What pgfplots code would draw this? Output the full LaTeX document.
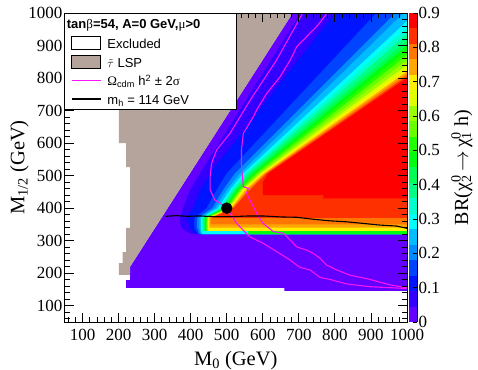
\documentclass[border=0pt]{standalone}
\usepackage{pgfplots}
\pgfplotsset{compat=1.18}
\usepackage{fontspec}
\setmainfont{Liberation Serif}
\newfontfamily\lsans{Liberation Sans}
\definecolor{c0}{RGB}{99,0,255}
\definecolor{c1}{RGB}{51,0,255}
\definecolor{c2}{RGB}{0,20,255}
\definecolor{c3}{RGB}{0,68,255}
\definecolor{c4}{RGB}{0,139,255}
\definecolor{c5}{RGB}{0,187,255}
\definecolor{c6}{RGB}{0,255,252}
\definecolor{c7}{RGB}{0,255,204}
\definecolor{c8}{RGB}{0,255,133}
\definecolor{c9}{RGB}{0,255,85}
\definecolor{c10}{RGB}{0,255,14}
\definecolor{c11}{RGB}{34,255,0}
\definecolor{c12}{RGB}{105,255,0}
\definecolor{c13}{RGB}{153,255,0}
\definecolor{c14}{RGB}{224,255,0}
\definecolor{c15}{RGB}{255,238,0}
\definecolor{c16}{RGB}{255,167,0}
\definecolor{c17}{RGB}{255,119,0}
\definecolor{c18}{RGB}{255,48,0}
\definecolor{c19}{RGB}{255,0,0}
\definecolor{stau}{RGB}{181,164,156}
\definecolor{relic}{RGB}{250,20,250}
\begin{document}
\begin{tikzpicture}
\useasboundingbox (0,0) rectangle (478bp,370bp);
\begin{axis}[
  at={(64.5bp,48bp)}, anchor=south west,
  scale only axis, width=342.5bp, height=309bp,
  xmin=50, xmax=1000, ymin=50, ymax=1000,
  xtick={100,200,...,1000}, ytick={100,200,...,1000},
  minor xtick={60,80,...,1000}, minor ytick={60,80,...,1000},
  tick align=inside, major tick length=9bp, minor tick length=5bp,
  tick style={black, line width=0.8bp},
  axis line style={line width=0.8bp},
  axis on top,
  /pgf/number format/1000 sep={},
  /pgf/number format/assume math mode=true,
  tick label style={font=\fontsize{17bp}{19bp}\selectfont},
  xticklabel style={inner sep=0pt, anchor=north, yshift=-7bp},
  yticklabel style={inner sep=0pt, anchor=east, xshift=-2bp},
  xlabel={M\textsubscript{0} (GeV)},
  ylabel={M\textsubscript{1/2} (GeV)},
  label style={font=\fontsize{20.5bp}{23bp}\selectfont},
  xlabel style={at={(axis description cs:0.5,-0.1392)}, anchor=base},
  ylabel style={at={(axis description cs:-0.1168,0.5)}, anchor=base},
]
% allowed region (lowest BR level)
\addplot[draw=none, fill=c0] coordinates {(221,155) (660,155) (660,146) (1000,146) (1000,1000) (683,1000) (232,220) (232,179) (221,179)};
% stau LSP region
\addplot[draw=none, fill=stau] coordinates {(201,1000) (683,1000) (232,220) (232,194.5) (201,194.5) (201,231) (211,231) (211,265) (221,265) (221,339) (232,339) (232,526) (221,526) (221,600) (201,600)};
% BR superlevel regions
\addplot[draw=none, fill=c1] coordinates {(1000,320) (405,320) (385,330) (372,345) (370,370) (379,400) (398,456) (426,507) (705,1000) (1000,1000)};
\addplot[draw=none, fill=c2] coordinates {(1000,320) (415,320) (400,335) (390,370) (407,400) (426,456) (454,507) (800,1000) (1000,1000)};
\addplot[draw=none, fill=c3] coordinates {(1000,320) (420,320) (410,340) (410,370) (444,400) (472,456) (500,507) (915,1000) (1000,1000)};
\addplot[draw=none, fill=c4] coordinates {(1000,320) (425,320) (418,340) (418,370) (460,400) (490,456) (523,507) (968,1000) (1000,1000)};
\addplot[draw=none, fill=c5] coordinates {(1000,320) (428,320) (424,340) (424,370) (468,400) (500,456) (537,507) (990,1000) (1000,1000)};
\addplot[draw=none, fill=c6] coordinates {(1000,320) (432,320) (428,340) (428,370) (475,400) (509,456) (546,507) (1000,975)};
\addplot[draw=none, fill=c7] coordinates {(1000,320) (560,320) (560,330) (432,330) (431,370) (480,400) (514,456) (552,507) (1000,955)};
\addplot[draw=none, fill=c8] coordinates {(1000,320) (560,320) (560,330) (435,330) (434,370) (485,400) (519,456) (558,507) (1000,935)};
\addplot[draw=none, fill=c9] coordinates {(1000,320) (560,320) (560,330) (438,330) (437,370) (489,400) (524,456) (565,507) (1000,915)};
\addplot[draw=none, fill=c10] coordinates {(1000,320) (560,320) (560,330) (440,330) (440,370) (493,400) (528,456) (573,507) (1000,900)};
\addplot[draw=none, fill=c11] coordinates {(1000,330) (442,330) (442,370) (497,400) (532,456) (578,507) (1000,885)};
\addplot[draw=none, fill=c12] coordinates {(1000,330) (444,330) (444,370) (500,400) (536,456) (584,507) (1000,870)};
\addplot[draw=none, fill=c13] coordinates {(1000,330) (446,330) (446,370) (503,400) (540,456) (590,507) (1000,855)};
\addplot[draw=none, fill=c14] coordinates {(1000,330) (448,330) (448,370) (506,400) (543,456) (595,507) (1000,840)};
\addplot[draw=none, fill=c15] coordinates {(1000,330) (450,330) (450,370) (509,400) (545,456) (598,507) (1000,828)};
\addplot[draw=none, fill=c16] coordinates {(1000,340) (452,340) (452,370) (512,400) (552,456) (603,507) (1000,820)};
\addplot[draw=none, fill=c17] coordinates {(1000,350) (455,350) (455,370) (515,400) (558,456) (607,507) (1000,813)};
\addplot[draw=none, fill=c18] coordinates {(1000,370) (458,370) (518,400) (564,456) (611,507) (1000,806)};
\addplot[draw=none, fill=c19] coordinates {(1000,430) (768,430) (768,440) (600,440) (600,480) (615,507) (1000,800)};
% relic density band contours
\addplot[relic, line width=1.1bp] coordinates {(711,1000) (638,855) (565,732) (537,681) (509,630) (472,579) (458,538) (454,497) (454,456) (467,425) (481,416) (503,395) (528,353) (545,333) (564,312) (601,292) (639,266) (675,241) (703,218) (731,210) (759,187) (786,181) (833,167) (897,158.5) (1000,153)};
\addplot[relic, line width=1.1bp] coordinates {(779,1000) (753,963) (731,938) (694,896) (676,855) (648,804) (611,753) (583,702) (574,681) (546,630) (541,579) (541,527) (546,466) (560,461) (555,446) (564,425) (574,404) (588,374) (601,353) (629,328) (657,323) (676,302) (694,281) (722,271) (740,261) (759,246) (777,225) (805,210) (842,194) (897,181) (953,164) (1000,155)};
% m_h = 114 GeV
\addplot[black, line width=1.1bp] coordinates {(331,375) (360,377) (390,375) (426,376) (460,374) (517,374) (560,376) (601,376) (650,373) (694,372) (739,366) (786,361) (833,358) (879,353) (925,348) (971,345) (1000,338)};
% benchmark point
\addplot[only marks, mark=*, mark size=5.5bp, mark options={fill=black, draw=black}] coordinates {(500,400)};
\end{axis}
% colour scale
\begin{axis}[
  at={(409bp,48bp)}, anchor=south west,
  scale only axis, width=8bp, height=309bp,
  xmin=0, xmax=1, ymin=0, ymax=0.9,
  axis x line=none, axis y line*=right,
  ytick={0,0.1,0.2,0.3,0.4,0.5,0.6,0.7,0.8,0.9},
  yticklabels={0,0.1,0.2,0.3,0.4,0.5,0.6,0.7,0.8,0.9},
  tick align=inside, major tick length=4bp,
  tick style={black, line width=0.8bp},
  axis line style={line width=0.8bp},
  axis on top,
  tick label style={font=\fontsize{17bp}{19bp}\selectfont},
  yticklabel style={inner sep=0pt, anchor=west, xshift=1.5bp},
  ylabel={BR(χ\rlap{\textsuperscript{0}}\textsubscript{2}\,$\rightarrow$\,χ\rlap{\textsuperscript{0}}\textsubscript{1} h)},
  ylabel style={font=\fontsize{20bp}{23bp}\selectfont, at={(axis description cs:7.375,0.5)}, anchor=base},
]
\addplot[draw=none, fill=c0] coordinates {(0,0) (1,0) (1,0.045) (0,0.045)};
\addplot[draw=none, fill=c1] coordinates {(0,0.045) (1,0.045) (1,0.09) (0,0.09)};
\addplot[draw=none, fill=c2] coordinates {(0,0.09) (1,0.09) (1,0.135) (0,0.135)};
\addplot[draw=none, fill=c3] coordinates {(0,0.135) (1,0.135) (1,0.18) (0,0.18)};
\addplot[draw=none, fill=c4] coordinates {(0,0.18) (1,0.18) (1,0.225) (0,0.225)};
\addplot[draw=none, fill=c5] coordinates {(0,0.225) (1,0.225) (1,0.27) (0,0.27)};
\addplot[draw=none, fill=c6] coordinates {(0,0.27) (1,0.27) (1,0.315) (0,0.315)};
\addplot[draw=none, fill=c7] coordinates {(0,0.315) (1,0.315) (1,0.36) (0,0.36)};
\addplot[draw=none, fill=c8] coordinates {(0,0.36) (1,0.36) (1,0.405) (0,0.405)};
\addplot[draw=none, fill=c9] coordinates {(0,0.405) (1,0.405) (1,0.45) (0,0.45)};
\addplot[draw=none, fill=c10] coordinates {(0,0.45) (1,0.45) (1,0.495) (0,0.495)};
\addplot[draw=none, fill=c11] coordinates {(0,0.495) (1,0.495) (1,0.54) (0,0.54)};
\addplot[draw=none, fill=c12] coordinates {(0,0.54) (1,0.54) (1,0.585) (0,0.585)};
\addplot[draw=none, fill=c13] coordinates {(0,0.585) (1,0.585) (1,0.63) (0,0.63)};
\addplot[draw=none, fill=c14] coordinates {(0,0.63) (1,0.63) (1,0.675) (0,0.675)};
\addplot[draw=none, fill=c15] coordinates {(0,0.675) (1,0.675) (1,0.72) (0,0.72)};
\addplot[draw=none, fill=c16] coordinates {(0,0.72) (1,0.72) (1,0.765) (0,0.765)};
\addplot[draw=none, fill=c17] coordinates {(0,0.765) (1,0.765) (1,0.81) (0,0.81)};
\addplot[draw=none, fill=c18] coordinates {(0,0.81) (1,0.81) (1,0.855) (0,0.855)};
\addplot[draw=none, fill=c19] coordinates {(0,0.855) (1,0.855) (1,0.9) (0,0.9)};
\end{axis}
% legend
\begin{scope}[x=1bp, y=1bp]
\draw[fill=white, line width=0.8bp] (64.5,357) rectangle (236,260.7);
\node[anchor=base west, inner sep=0pt, font=\lsans\bfseries\fontsize{13bp}{15bp}\selectfont] at (66.7,342) {tan{\rmfamily\mdseries β}=54, A=0 GeV,{\rmfamily\mdseries μ}>0};
\draw[fill=white, line width=0.8bp] (71.7,334) rectangle (100.7,321);
\node[anchor=base west, inner sep=0pt, font=\lsans\fontsize{13bp}{15bp}\selectfont] at (107.3,322) {Excluded};
\draw[fill=stau, line width=0.8bp] (71.7,315) rectangle (100.7,302);
\node[anchor=base west, inner sep=0pt, font=\lsans\fontsize{13bp}{15bp}\selectfont] at (107.3,303) {$\tilde{\tau}$ LSP};
\draw[relic, line width=1.1bp] (71.7,289.5) -- (100.7,289.5);
\node[anchor=base west, inner sep=0pt, font=\lsans\fontsize{13bp}{15bp}\selectfont] at (107.3,284.5) {{\rmfamily Ω}\textsubscript{cdm} h\textsuperscript{2} ± 2{\rmfamily σ}};
\draw[black, line width=1.1bp] (71.7,271) -- (100.7,271);
\node[anchor=base west, inner sep=0pt, font=\lsans\fontsize{13bp}{15bp}\selectfont] at (107.3,266) {m\textsubscript{h} = 114 GeV};
\end{scope}
\end{tikzpicture}
\end{document}
